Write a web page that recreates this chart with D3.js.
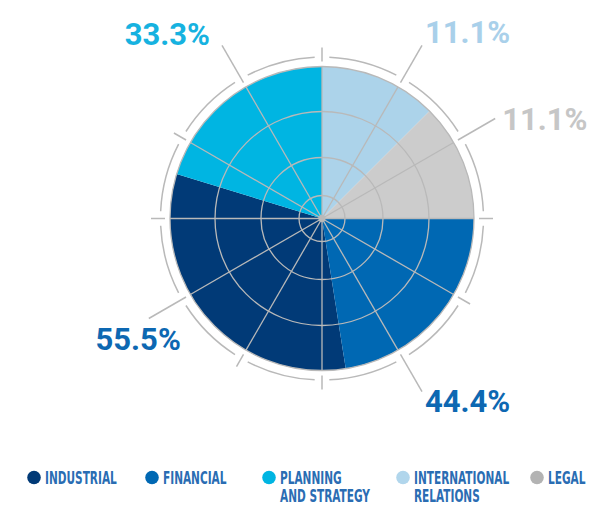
<!DOCTYPE html>
<html>
<head>
<meta charset="utf-8">
<script src="https://cdn.jsdelivr.net/npm/d3@7"></script>
<style>
  body { margin: 0; background: #fff; }
</style>
</head>
<body>
<div id="chart"></div>
<script>
// categories, legend order
var categories = ["industrial", "financial", "planning", "international", "legal"]
var legend_lines = [["INDUSTRIAL"], ["FINANCIAL"], ["PLANNING", "AND STRATEGY"], ["INTERNATIONAL", "RELATIONS"], ["LEGAL"]]
var shares = [55.5, 44.4, 33.3, 11.1, 11.1]
// angular size of each slice (degrees)
var slice_degrees = [116, 81, 73, 45, 45]
// clockwise order from 12 o'clock
var clock_order = ["international", "legal", "financial", "industrial", "planning"]

const W = 589, H = 506
const CX = 322, CY = 218.5
const R = 152

const slice_color = { industrial: "#013a77", financial: "#0068b3", planning: "#00b5e2", international: "#acd3ea", legal: "#cccccc" }
const dot_color = { industrial: "#013a77", financial: "#0068b3", planning: "#00b5e2", international: "#b1d6ec", legal: "#b3b3b3" }
const label_color = { industrial: "#0d68b2", financial: "#0d68b2", planning: "#16b2e0", international: "#a9d0ea", legal: "#c6c6c6" }
// where each value label sits: leader angle, text anchor and offset from leader end
const label_pos = {
    industrial: { ang: 240, anchor: "end", dx: 32, dy: 31 },
    financial: { ang: 150, anchor: "start", dx: 3, dy: 20 },
    planning: { ang: 330, anchor: "end", dx: -12, dy: 0 },
    international: { ang: 30, anchor: "start", dx: 3, dy: -2 },
    legal: { ang: 60, anchor: "start", dx: 7, dy: 11 }
}
const legend_x = [34, 152, 269, 403, 537]

const data = categories.map((c, i) => ({ key: c, deg: slice_degrees[i], share: shares[i] }))

const svg = d3.select("#chart").append("svg")
    .attr("width", W)
    .attr("height", H)

const g = svg.append("g")
    .attr("transform", "translate(" + CX + "," + CY + ")")

function pt(deg, r) {
    var a = deg * Math.PI / 180
    return [r * Math.sin(a), -r * Math.cos(a)]
}

var pie = d3.pie()
    .value(d => d.deg)
    .sort((a, b) => clock_order.indexOf(a.key) - clock_order.indexOf(b.key))
var arc = d3.arc().innerRadius(0).outerRadius(R)

g.selectAll("path.slice")
    .data(pie(data))
    .enter()
    .append("path")
    .attr("class", "slice")
    .attr("d", arc)
    .attr("fill", d => slice_color[d.data.key])

// grid circles and spokes
var grid_r = [23, 61, 107, R]
g.selectAll("circle.grid")
    .data(grid_r)
    .enter()
    .append("circle")
    .attr("r", d => d)
    .attr("fill", "none")
    .attr("stroke", "#b9b9b9")
    .attr("stroke-width", 1.3)

var spokes = d3.range(0, 360, 30)
g.selectAll("line.spoke")
    .data(spokes)
    .enter()
    .append("line")
    .attr("x1", 0).attr("y1", 0)
    .attr("x2", d => pt(d, R)[0])
    .attr("y2", d => pt(d, R)[1])
    .attr("stroke", "#b9b9b9")
    .attr("stroke-width", 1.3)

g.append("circle").attr("r", 3.5).attr("fill", "#b9b9b9")

// outer ring, broken at each spoke
var RING = 161.5, GAP = 2.6
g.selectAll("path.ring")
    .data(spokes)
    .enter()
    .append("path")
    .attr("d", d => {
        var p = d3.path()
        var a0 = (d + GAP - 90) * Math.PI / 180
        var a1 = (d + 30 - GAP - 90) * Math.PI / 180
        p.arc(0, 0, RING, a0, a1)
        return p.toString()
    })
    .attr("fill", "none")
    .attr("stroke", "#b9b9b9")
    .attr("stroke-width", 1.5)

var label_angles = categories.map(c => label_pos[c].ang)
g.selectAll("line.tick")
    .data(spokes)
    .enter()
    .append("line")
    .attr("x1", d => pt(d, 157)[0])
    .attr("y1", d => pt(d, 157)[1])
    .attr("x2", d => pt(d, label_angles.includes(d) ? 200 : 171)[0])
    .attr("y2", d => pt(d, label_angles.includes(d) ? 200 : 171)[1])
    .attr("stroke", "#b9b9b9")
    .attr("stroke-width", 1.5)

// value labels
g.selectAll("text.value")
    .data(data)
    .enter()
    .append("text")
    .attr("x", d => pt(label_pos[d.key].ang, 200)[0] + label_pos[d.key].dx)
    .attr("y", d => pt(label_pos[d.key].ang, 200)[1] + label_pos[d.key].dy)
    .attr("text-anchor", d => label_pos[d.key].anchor)
    .attr("fill", d => label_color[d.key])
    .style("font-family", "Roboto, 'Liberation Sans', sans-serif")
    .style("font-weight", "bold")
    .style("font-size", "31px")
    .text(d => d.share.toFixed(1) + "%")

// legend
var lg = svg.append("g")
var items = lg.selectAll("g.item")
    .data(data)
    .enter()
    .append("g")
    .attr("transform", (d, i) => "translate(" + legend_x[i] + ",477.5)")

items.append("circle")
    .attr("r", 6.8)
    .attr("fill", d => dot_color[d.key])

items.each(function(d, i) {
    var t = d3.select(this)
    legend_lines[i].forEach((line, j) => {
        t.append("text")
            .attr("transform", "translate(11," + (6.5 + j * 18) + ") scale(0.69,1)")
            .attr("fill", "#2a6db3")
            .style("font-family", "'Liberation Sans Narrow', 'DejaVu Sans Condensed', sans-serif")
            .style("font-weight", "bold")
            .style("font-size", "17px")
            .text(line)
    })
})
</script>
</body>
</html>
